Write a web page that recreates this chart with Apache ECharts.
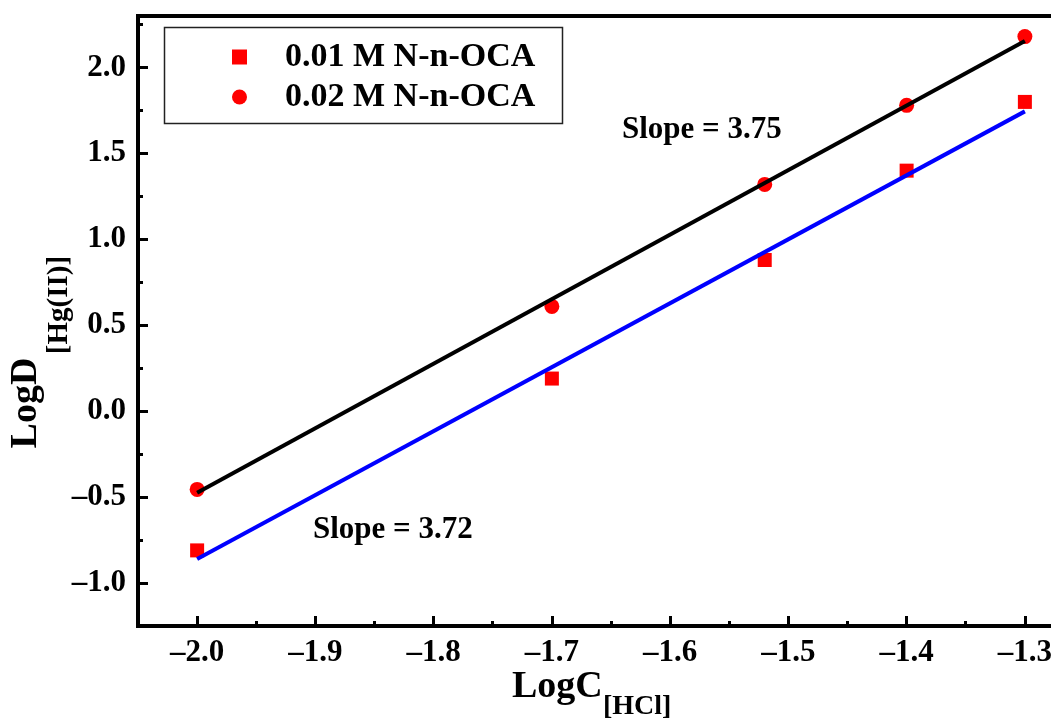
<!DOCTYPE html>
<html>
<head>
<meta charset="utf-8">
<script src="https://cdn.jsdelivr.net/npm/echarts@6/dist/echarts.min.js"></script>
<style>
  html, body { margin: 0; padding: 0; background: #fff; }
  #chart { width: 1051px; height: 722px; }
</style>
</head>
<body>
<div id="chart"></div>
<script>
// data
const xPoints = [-2.0, -1.7, -1.52, -1.4, -1.3]
const logD001 = [-0.81, 0.19, 0.88, 1.40, 1.80]
const logD002 = [-0.455, 0.61, 1.32, 1.78, 2.18]

// linear fits (end points)
const fitX = [-2.0, -1.3]
const fit001 = [-0.86, 1.745]
const fit002 = [-0.475, 2.155]

// ticks
const xMajor = [-2.0, -1.9, -1.8, -1.7, -1.6, -1.5, -1.4, -1.3]
const xMinor = [-1.95, -1.85, -1.75, -1.65, -1.55, -1.45, -1.35, -1.25]
const yMajor = [-1.0, -0.5, 0.0, 0.5, 1.0, 1.5, 2.0]
const yMinor = [-0.75, -0.25, 0.25, 0.75, 1.25, 1.75, 2.25]

const seriesNames = ['0.01 M N-n-OCA', '0.02 M N-n-OCA']

const FONT = 'Liberation Serif'
const fmt = v => v.toFixed(1).replace('-', '\u2013')
const pairs = (xs, ys) => xs.map((x, i) => [x, ys[i]])

const xRange = { min: -2.05, max: -1.25 }
const yRange = { min: -1.25, max: 2.3 }

const chart = echarts.init(document.getElementById('chart'))

chart.setOption({
  animation: false,
  backgroundColor: '#fff',
  grid: {
    left: 138, top: 16, width: 946, height: 610,
    outerBoundsMode: 'none', containLabel: false,
    show: true, borderColor: '#000', borderWidth: 4
  },
  xAxis: [
    {
      type: 'value', ...xRange, position: 'bottom',
      axisLine: { onZero: false, lineStyle: { color: '#000', width: 4 } },
      axisTick: { inside: true, length: 10, lineStyle: { width: 3, color: '#000' }, customValues: xMajor },
      axisLabel: {
        customValues: xMajor, formatter: fmt, margin: 11,
        fontFamily: FONT, fontWeight: 'bold', fontSize: 31, color: '#000'
      },
      splitLine: { show: false }
    },
    {
      type: 'value', ...xRange, position: 'bottom',
      axisLine: { show: false, onZero: false },
      axisTick: { inside: true, length: 5, lineStyle: { width: 3, color: '#000' }, customValues: xMinor },
      axisLabel: { show: false },
      splitLine: { show: false }
    }
  ],
  yAxis: [
    {
      type: 'value', ...yRange, position: 'left',
      axisLine: { show: true, onZero: false, lineStyle: { color: '#000', width: 4 } },
      axisTick: { show: true, inside: true, length: 10, lineStyle: { width: 3, color: '#000' }, customValues: yMajor },
      axisLabel: {
        customValues: yMajor, formatter: fmt, margin: 12,
        fontFamily: FONT, fontWeight: 'bold', fontSize: 31, color: '#000'
      },
      splitLine: { show: false }
    },
    {
      type: 'value', ...yRange, position: 'left',
      axisLine: { show: false, onZero: false },
      axisTick: { show: true, inside: true, length: 5, lineStyle: { width: 3, color: '#000' }, customValues: yMinor },
      axisLabel: { show: false },
      splitLine: { show: false }
    }
  ],
  legend: {
    left: 232, top: 40, orient: 'vertical',
    padding: 0, itemGap: 6, itemWidth: 15, itemHeight: 15,
    textStyle: { fontFamily: FONT, fontWeight: 'bold', fontSize: 34, color: '#000', padding: [0, 0, 0, 33] },
    data: [
      { name: seriesNames[0], icon: 'rect' },
      { name: seriesNames[1], icon: 'circle' }
    ]
  },
  series: [
    {
      name: seriesNames[0], type: 'scatter', symbol: 'rect', symbolSize: 14,
      itemStyle: { color: '#ff0000', opacity: 1 }, data: pairs(xPoints, logD001), z: 2
    },
    {
      name: seriesNames[1], type: 'scatter', symbol: 'circle', symbolSize: 15,
      itemStyle: { color: '#ff0000', opacity: 1 }, data: pairs(xPoints, logD002), z: 2
    },
    {
      name: 'fit1', type: 'line', showSymbol: false, silent: true,
      lineStyle: { color: '#0000ff', width: 4 }, data: pairs(fitX, fit001), z: 3
    },
    {
      name: 'fit2', type: 'line', showSymbol: false, silent: true,
      lineStyle: { color: '#000', width: 4 }, data: pairs(fitX, fit002), z: 3
    }
  ],
  graphic: [
    // legend frame
    { type: 'rect', left: 162, top: 25, shape: { width: 398, height: 96 },
      style: { fill: 'none', stroke: '#222', lineWidth: 1.5 }, z: 10 },
    // slope annotations
    { type: 'text', left: 622, top: 114,
      style: { text: 'Slope = 3.75', font: `bold 31px "${FONT}"`, fill: '#000' } },
    { type: 'text', left: 313, top: 514,
      style: { text: 'Slope = 3.72', font: `bold 31px "${FONT}"`, fill: '#000' } },
    // x title
    { type: 'text', left: 512, top: 668,
      style: { text: 'LogC', font: `bold 38px "${FONT}"`, fill: '#000' } },
    { type: 'text', left: 603, top: 693,
      style: { text: '[HCl]', font: `bold 28px "${FONT}"`, fill: '#000' } },
    // y title (rotated)
    { type: 'text', x: 26, y: 403, rotation: Math.PI / 2,
      style: { text: 'LogD', font: `bold 38px "${FONT}"`, fill: '#000', align: 'center', verticalAlign: 'middle' } },
    { type: 'text', x: 60, y: 305, rotation: Math.PI / 2,
      style: { text: '[Hg(II)]', font: `bold 29px "${FONT}"`, fill: '#000', align: 'center', verticalAlign: 'middle' } }
  ]
})
</script>
</body>
</html>
